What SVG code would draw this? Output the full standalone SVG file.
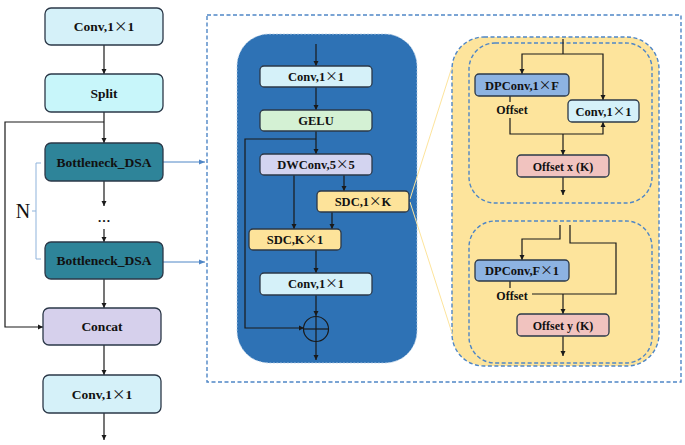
<svg xmlns="http://www.w3.org/2000/svg" width="685" height="445" viewBox="0 0 685 445">
<defs>
<marker id="ah" markerWidth="6" markerHeight="6" refX="5" refY="3" orient="auto" markerUnits="userSpaceOnUse"><path d="M0,0.5 L5,3 L0,5.5 z" fill="#1a1a1a"/></marker>
<marker id="ahb" markerWidth="7" markerHeight="6" refX="6" refY="3" orient="auto" markerUnits="userSpaceOnUse"><path d="M0,0.5 L6,3 L0,5.5 z" fill="#4f86c6"/></marker>
<style>
.t{font-family:"Liberation Serif","Times New Roman",serif;font-weight:bold;fill:#111;text-anchor:middle}
.x{font-family:"Noto Sans CJK SC",sans-serif;font-weight:normal}
.b{stroke:#2b3848;stroke-width:1.3}
.w{stroke:#1a1a1a;stroke-width:1.2;fill:none}
.wa{stroke:#1a1a1a;stroke-width:1.2;fill:none;marker-end:url(#ah)}
.dash{fill:none;stroke:#4f86c6;stroke-width:1.4;stroke-dasharray:4,2.5}
</style>
</defs>
<rect width="685" height="445" fill="#fff"/>

<!-- outer dashed box -->
<rect class="dash" x="207" y="15" width="474" height="367"/>

<!-- blue panel -->
<rect id="bluePanel" x="237" y="34" width="180" height="329" rx="32" fill="#2e72b5" stroke="#b9cfe6" stroke-width="0.8" stroke-dasharray="2,1.5"/>

<!-- yellow panel -->
<g id="yellowPanel">
<rect x="452" y="37" width="207" height="329" rx="32" fill="#fde49c" stroke="#4f86c6" stroke-width="1.4" stroke-dasharray="4,2.5"/>
<rect class="dash" x="469" y="43" width="183" height="160" rx="26"/>
<rect class="dash" x="469" y="221" width="183" height="142" rx="26"/>
</g>

<!-- zoom lines -->
<g id="zoomLines" stroke="#fde49c" stroke-width="1" fill="none">
<line x1="410" y1="199" x2="452" y2="67"/>
<line x1="410" y1="202" x2="452" y2="333"/>
</g>

<!-- connectors -->
<g id="connectors">
<line class="wa" x1="104" y1="45" x2="104" y2="74"/>
<line class="wa" x1="104" y1="112" x2="104" y2="143"/>
<polyline class="wa" points="104,122 5,122 5,327 43,327"/>
<line class="wa" x1="104" y1="181" x2="104" y2="206"/>
<line class="wa" x1="104" y1="229" x2="104" y2="242"/>
<line class="wa" x1="104" y1="279" x2="104" y2="308"/>
<line class="wa" x1="104" y1="345" x2="104" y2="375"/>
<line class="wa" x1="104" y1="413" x2="104" y2="440"/>
<line stroke="#4f86c6" stroke-width="1" marker-end="url(#ahb)" x1="163" y1="162" x2="205" y2="162"/>
<line stroke="#4f86c6" stroke-width="1" marker-end="url(#ahb)" x1="163" y1="262" x2="205" y2="262"/>
<polyline fill="none" stroke="#8fb3db" stroke-width="1" points="41,163 36,163 36,259 41,259"/>
<line stroke="#8fb3db" stroke-width="1" x1="36" y1="211" x2="32" y2="211"/>

<line class="wa" x1="316" y1="44" x2="316" y2="66"/>
<line class="wa" x1="316" y1="87" x2="316" y2="110"/>
<line class="wa" x1="316" y1="131" x2="316" y2="154"/>
<polyline class="wa" points="316,139 245,139 245,328 304,328"/>
<line class="wa" x1="294" y1="175" x2="294" y2="229"/>
<line class="wa" x1="344" y1="175" x2="344" y2="191"/>
<line class="wa" x1="332" y1="212" x2="332" y2="229"/>
<line class="wa" x1="316" y1="250" x2="316" y2="273"/>
<line class="wa" x1="316" y1="295" x2="316" y2="316"/>
<line class="wa" x1="316" y1="341" x2="316" y2="360"/>

<line class="w" x1="563" y1="39" x2="563" y2="54"/>
<polyline class="wa" points="563,54 522,54 522,74"/>
<polyline class="wa" points="563,54 603,54 603,100"/>
<line class="w" x1="510" y1="96" x2="510" y2="102"/>
<polyline class="wa" points="510,118 510,134 603,134 603,122"/>
<line class="wa" x1="563" y1="134" x2="563" y2="155"/>
<line class="wa" x1="563" y1="177" x2="563" y2="195"/>

<polyline class="wa" points="560,225 560,239 522,239 522,260"/>
<polyline class="w" points="570,225 570,243 616,243 616,294 532,294"/>
<line class="wa" x1="563" y1="294" x2="563" y2="314"/>
<line class="w" x1="510" y1="281" x2="510" y2="288"/>
<line class="wa" x1="563" y1="336" x2="563" y2="356"/>
</g>

<!-- left nodes -->
<g id="conv_top"><rect class="b" x="45" y="8" width="118" height="37" rx="6" fill="#d5f1f9"/><text class="t" x="104" y="31" font-size="13.5">Conv,1<tspan class="x">×</tspan>1</text></g>
<g id="split"><rect class="b" x="45" y="74" width="118" height="38" rx="6" fill="#c8f6fa"/><text class="t" x="104" y="98" font-size="13.5">Split</text></g>
<g id="bottleneck1"><rect class="b" x="45" y="143" width="118" height="38" rx="6" fill="#2e8499"/><text class="t" x="104" y="167" font-size="13.5">Bottleneck_DSA</text></g>
<g id="dots"><text class="t" x="104" y="222" font-size="13">…</text></g>
<g id="bottleneck2"><rect class="b" x="45" y="242" width="118" height="37" rx="6" fill="#2e8499"/><text class="t" x="104" y="265" font-size="13.5">Bottleneck_DSA</text></g>
<g id="concat"><rect class="b" x="43" y="308" width="118" height="37" rx="6" fill="#d6d0ec"/><text class="t" x="102" y="331" font-size="13.5">Concat</text></g>
<g id="conv_bottom"><rect class="b" x="43" y="375" width="118" height="38" rx="6" fill="#d5f1f9"/><text class="t" x="102" y="399" font-size="13.5">Conv,1<tspan class="x">×</tspan>1</text></g>
<g id="N"><text x="23" y="218" font-family="Liberation Serif,serif" font-size="20" fill="#111" text-anchor="middle">N</text></g>

<!-- middle nodes -->
<g id="m_conv1"><rect class="b" x="260" y="66" width="112" height="21" rx="4" fill="#d5f1f9"/><text class="t" x="316" y="81" font-size="12.5">Conv,1<tspan class="x">×</tspan>1</text></g>
<g id="m_gelu"><rect class="b" x="260" y="110" width="112" height="21" rx="4" fill="#d4f1d4"/><text class="t" x="316" y="125" font-size="12.5">GELU</text></g>
<g id="m_dwconv"><rect class="b" x="260" y="154" width="112" height="21" rx="4" fill="#d3d4f0"/><text class="t" x="316" y="169" font-size="12.5">DWConv,5<tspan class="x">×</tspan>5</text></g>
<g id="m_sdc1k"><rect class="b" x="317" y="191" width="92" height="21" rx="4" fill="#fde39a"/><text class="t" x="363" y="206" font-size="12.5">SDC,1<tspan class="x">×</tspan>K</text></g>
<g id="m_sdck1"><rect class="b" x="249" y="229" width="92" height="21" rx="4" fill="#fde39a"/><text class="t" x="295" y="244" font-size="12.5">SDC,K<tspan class="x">×</tspan>1</text></g>
<g id="m_conv2"><rect class="b" x="260" y="273" width="112" height="22" rx="4" fill="#d5f1f9"/><text class="t" x="316" y="288" font-size="12.5">Conv,1<tspan class="x">×</tspan>1</text></g>
<g id="m_add"><circle cx="316" cy="329" r="12.5" fill="none" stroke="#1a1a1a" stroke-width="1.2"/><line class="w" x1="303.5" y1="329" x2="328.5" y2="329"/><line class="w" x1="316" y1="316.5" x2="316" y2="341.5"/></g>

<!-- right nodes -->
<g id="r_dpconv1"><rect class="b" x="475" y="74" width="94" height="22" rx="4" fill="#8db3e2"/><text class="t" x="522" y="89.5" font-size="12.5">DPConv,1<tspan class="x">×</tspan>F</text></g>
<g id="r_conv"><rect class="b" x="568" y="100" width="71" height="22" rx="4" fill="#d5f1f9"/><text class="t" x="603.5" y="115.5" font-size="12.5">Conv,1<tspan class="x">×</tspan>1</text></g>
<g id="r_offset1"><text class="t" x="512" y="114" font-size="12">Offset</text></g>
<g id="r_offx"><rect class="b" x="517" y="155" width="92" height="22" rx="4" fill="#f1c3bf"/><text class="t" x="563" y="170.5" font-size="12">Offset x (K)</text></g>
<g id="r_dpconv2"><rect class="b" x="475" y="260" width="94" height="21" rx="4" fill="#8db3e2"/><text class="t" x="522" y="275" font-size="12.5">DPConv,F<tspan class="x">×</tspan>1</text></g>
<g id="r_offset2"><text class="t" x="512" y="300" font-size="12">Offset</text></g>
<g id="r_offy"><rect class="b" x="517" y="314" width="92" height="22" rx="4" fill="#f1c3bf"/><text class="t" x="563" y="329.5" font-size="12">Offset y (K)</text></g>
</svg>
